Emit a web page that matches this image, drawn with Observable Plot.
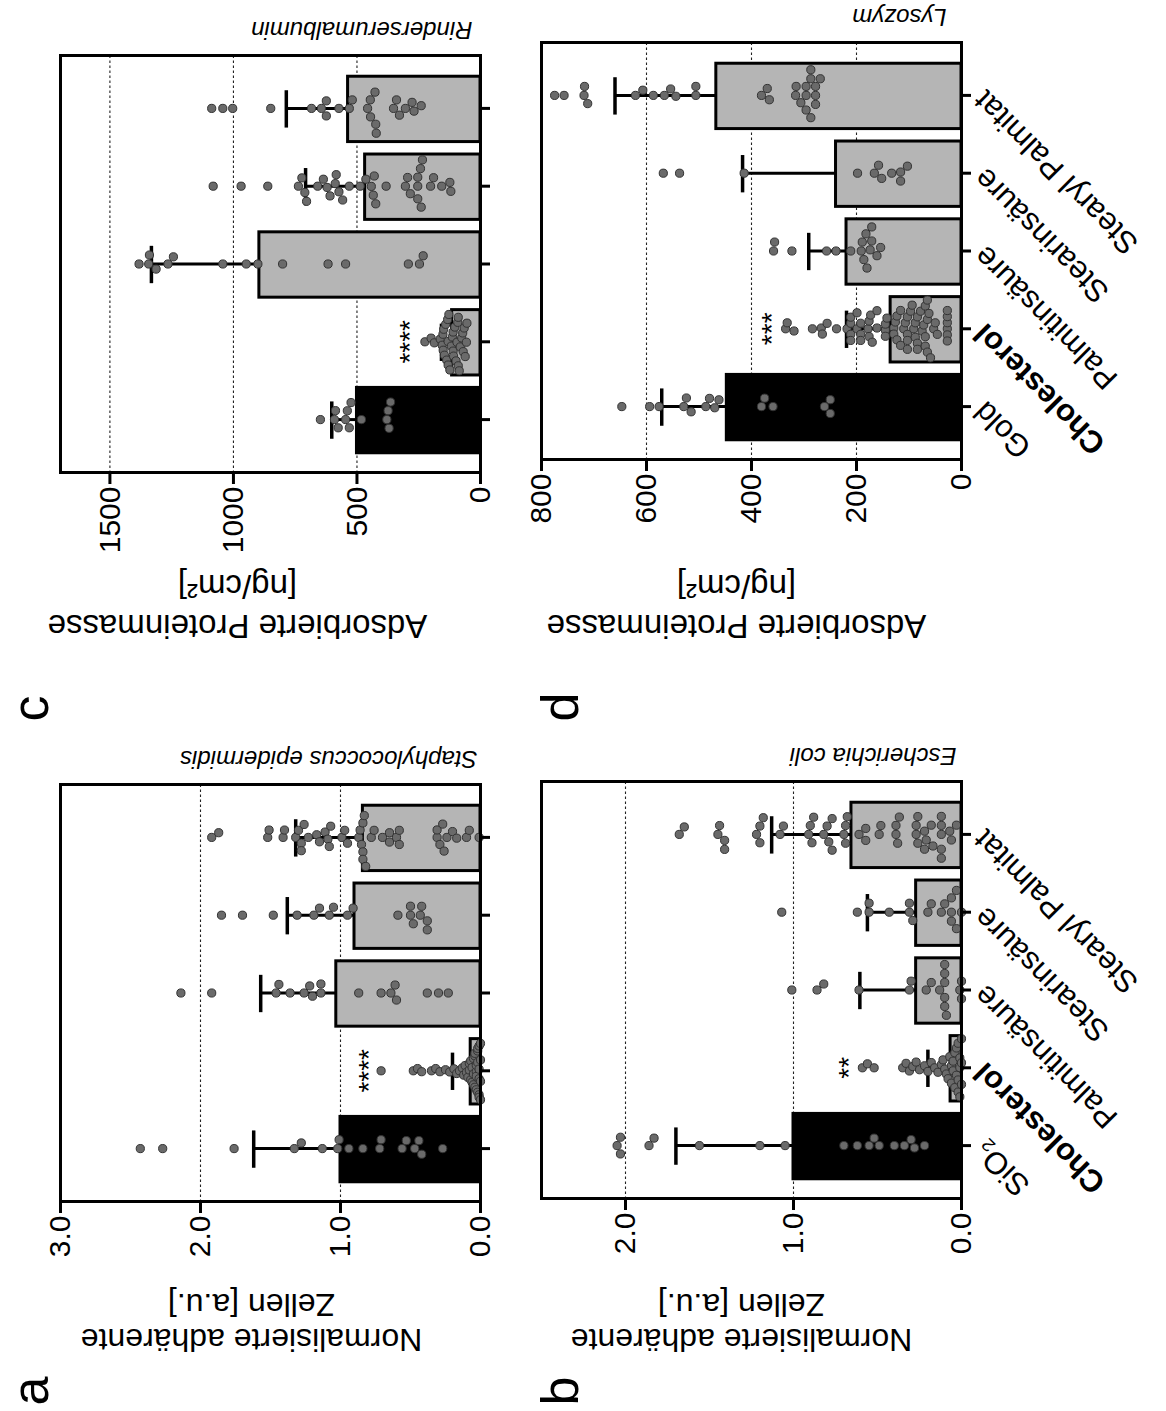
<!DOCTYPE html>
<html><head><meta charset="utf-8">
<script src="https://cdn.jsdelivr.net/npm/d3@7"></script>
<script src="https://cdn.jsdelivr.net/npm/@observablehq/plot@0.6"></script>
<style>
html,body{margin:0;padding:0;background:#fff;}
body{width:1166px;height:1411px;overflow:hidden;position:relative;}
#fig{position:absolute;left:0;top:0;width:1411px;height:1166px;transform-origin:0 0;transform:translateY(1411px) rotate(-90deg);}
#fig svg{position:absolute;overflow:visible;background:transparent;max-width:none;}
</style></head><body><div id="fig"></div>
<script>
// ---------------- data ----------------
const catsAB = ["SiO₂", "Cholesterol", "Palmitinsäure", "Stearinsäure", "Stearyl Palmitat"];
const catsCD = ["Gold", "Cholesterol", "Palmitinsäure", "Stearinsäure", "Stearyl Palmitat"];

// a: Staphylococcus epidermidis
const meanA = [1.00, 0.07, 1.03, 0.90, 0.84];
const sdA = [0.62, 0.13, 0.54, 0.48, 0.48];
const dotsA = [
  [2.43, 2.27, 1.76, 1.33, 1.28, 1.13, 1.02, 1.01, 0.94, 0.84, 0.72, 0.71, 0.56, 0.53, 0.47, 0.44, 0.42, 0.27],
  [0.71, 0.48, 0.45, 0.42, 0.35, 0.32, 0.29, 0.25, 0.22, 0.19, 0.17, 0.15, 0.13, 0.12, 0.11, 0.10, 0.09, 0.08, 0.08, 0.07, 0.07, 0.06, 0.06, 0.05, 0.05, 0.05, 0.04, 0.04, 0.04, 0.03, 0.03, 0.03, 0.03, 0.02, 0.02, 0.02, 0.02, 0.01, 0.01, 0.01, 0.01, 0.01, 0.00, 0.00, 0.00, 0.00],
  [2.14, 1.92, 1.46, 1.44, 1.36, 1.26, 1.22, 1.20, 1.14, 1.14, 0.87, 0.71, 0.64, 0.61, 0.60, 0.38, 0.30, 0.23],
  [1.85, 1.70, 1.48, 1.31, 1.19, 1.15, 1.08, 1.05, 0.95, 0.91, 0.59, 0.50, 0.50, 0.48, 0.43, 0.42, 0.38, 0.38],
  [1.92, 1.87, 1.52, 1.51, 1.41, 1.40, 1.32, 1.30, 1.28, 1.28, 1.26, 1.23, 1.17, 1.15, 1.11, 1.09, 1.08, 1.07, 0.99, 0.97, 0.95, 0.87, 0.86, 0.85, 0.84, 0.84, 0.84, 0.83, 0.82, 0.78, 0.76, 0.70, 0.65, 0.65, 0.60, 0.58, 0.58, 0.31, 0.31, 0.29, 0.27, 0.26, 0.24, 0.20, 0.17, 0.10, 0.08, 0.01]
];
const ticksA = [0, 1, 2, 3];
const gridA = [1, 2];
const starA = {v: 0.845, t: "****"};

// b: Escherichia coli
const meanB = [1.00, 0.065, 0.27, 0.27, 0.655];
const sdB = [0.70, 0.135, 0.335, 0.29, 0.475];
const dotsB = [
  [2.05, 2.03, 2.03, 1.86, 1.83, 1.56, 1.20, 1.05, 0.70, 0.62, 0.55, 0.52, 0.49, 0.40, 0.34, 0.30, 0.28, 0.22],
  [0.59, 0.56, 0.52, 0.35, 0.33, 0.31, 0.29, 0.27, 0.25, 0.22, 0.20, 0.18, 0.16, 0.14, 0.12, 0.11, 0.10, 0.09, 0.08, 0.07, 0.06, 0.06, 0.05, 0.05, 0.04, 0.04, 0.03, 0.03, 0.02, 0.02, 0.02, 0.01, 0.01, 0.01, 0.00, 0.00, 0.00],
  [1.01, 0.86, 0.82, 0.61, 0.31, 0.30, 0.21, 0.18, 0.13, 0.10, 0.10, 0.10, 0.10, 0.10, 0.09, 0.01, 0.00, 0.00],
  [1.07, 0.62, 0.55, 0.55, 0.43, 0.31, 0.31, 0.29, 0.20, 0.18, 0.12, 0.10, 0.06, 0.06, 0.06, 0.03, 0.03, 0.00],
  [1.68, 1.65, 1.45, 1.44, 1.41, 1.41, 1.22, 1.20, 1.20, 1.18, 1.08, 1.06, 0.91, 0.90, 0.89, 0.88, 0.82, 0.80, 0.79, 0.77, 0.77, 0.70, 0.69, 0.69, 0.68, 0.61, 0.57, 0.57, 0.49, 0.48, 0.39, 0.39, 0.38, 0.37, 0.27, 0.27, 0.26, 0.26, 0.22, 0.22, 0.21, 0.18, 0.17, 0.12, 0.12, 0.12, 0.12, 0.12, 0.07, 0.06, 0.03]
];
const ticksB = [0, 1, 2];
const gridB = [1, 2];
const starB = {v: 0.71, t: "**"};

// c: Rinderserumalbumin
const meanC = [500, 115, 895, 467, 536];
const sdC = [102, 43, 437, 241, 250];
const dotsC = [
  [648, 591, 587, 576, 546, 539, 531, 524, 482, 379, 374, 370, 364],
  [225, 200, 187, 163, 155, 152, 151, 149, 146, 141, 137, 133, 131, 131, 128, 124, 118, 114, 111, 111, 109, 104, 99, 95, 92, 90, 90, 86, 82, 76, 72, 70, 66, 62, 57, 55],
  [1382, 1343, 1340, 1313, 1265, 1243, 1043, 948, 901, 801, 617, 546, 292, 247, 232],
  [1082, 969, 861, 737, 723, 711, 704, 659, 636, 621, 609, 588, 584, 573, 558, 531, 487, 464, 442, 434, 430, 424, 382, 304, 295, 284, 254, 254, 254, 243, 240, 235, 202, 190, 157, 124, 120],
  [1088, 1043, 1003, 849, 684, 644, 624, 624, 573, 531, 519, 457, 446, 445, 427, 424, 422, 352, 340, 328, 304, 277, 269, 240]
];
const ticksC = [0, 500, 1000, 1500];
const gridC = [500, 1000, 1500];
const starC = {v: 312, t: "****"};

// d: Lysozym
const meanD = [447, 135, 219, 239, 467];
const sdD = [124, 84, 72, 178, 193];
const dotsD = [
  [647, 594, 576, 529, 524, 515, 487, 480, 470, 462, 381, 375, 359, 261, 250, 250],
  [335, 332, 319, 284, 267, 265, 256, 238, 218, 211, 211, 211, 211, 199, 199, 192, 192, 192, 178, 176, 176, 173, 170, 161, 161, 145, 145, 145, 142, 129, 129, 126, 123, 123, 116, 116, 110, 107, 103, 103, 103, 103, 97, 94, 91, 88, 88, 84, 84, 84, 78, 75, 72, 69, 69, 69, 65, 65, 65, 62, 59, 53, 50, 46, 27, 27, 27, 27, 27, 27],
  [358, 356, 323, 257, 239, 211, 191, 189, 186, 182, 180, 174, 171, 171, 161, 154],
  [568, 537, 414, 198, 166, 158, 152, 133, 116, 116, 103],
  [775, 757, 719, 718, 712, 621, 607, 587, 566, 554, 544, 506, 506, 381, 370, 366, 316, 315, 306, 296, 296, 296, 287, 287, 287, 278, 278, 278, 269]
];
const ticksD = [0, 200, 400, 600, 800];
const gridD = [200, 400, 600];
const starD = {v: 375, t: "***"};

// ---------------- layout ----------------
const FONT = "'Liberation Sans', Arial, Helvetica, sans-serif";
const ML = 280, MR = 60, MT = 30, MB = 240, FW = 417, FH = 420;
const XD = [-0.68, 4.68];

function swarm(ys, D) {
  const idx = d3.range(ys.length).sort((a, b) => ys[a] - ys[b] || a - b);
  const placed = [];
  const out = new Array(ys.length).fill(0);
  for (const i of idx) {
    const y = ys[i];
    const near = placed.filter(p => Math.abs(p.y - y) < D);
    const cands = [0];
    for (const p of near) {
      const h = Math.sqrt(D * D - (p.y - y) ** 2);
      cands.push(p.x + h, p.x - h);
    }
    cands.sort((a, b) => Math.abs(a) - Math.abs(b) || b - a);
    let x = 0;
    for (const c of cands) {
      if (near.every(p => (p.x - c) ** 2 + (p.y - y) ** 2 >= D * D - 0.01)) { x = c; break; }
    }
    placed.push({x, y});
    out[i] = x;
  }
  return out;
}

function makePanel(p, L) {
  const W = ML + FW + MR, H = MT + FH + MB;
  const xs = d3.scaleLinear().domain(XD).range([ML, ML + FW]);
  const ys = d3.scaleLinear().domain([0, p.ymax]).range([MT + FH, MT]);
  const bars = p.means.map((m, i) => ({i, mean: m, top: m + p.sds[i]}));
  const dots = [];
  p.dots.forEach((vals, i) => {
    let off = swarm(vals.map(v => ys(v)), 9);
    const m = d3.max(off, o => Math.abs(o)) || 0;
    if (m > 29) off = off.map(o => o * 29 / m);
    const cx = xs(i);
    vals.forEach((v, k) => dots.push({x: xs.invert(cx + off[k]), v}));
  });
  const fmt = d3.format(p.fmt);
  const svg = Plot.plot({
    width: W, height: H,
    marginLeft: ML, marginRight: MR, marginTop: MT, marginBottom: MB,
    x: {type: "linear", domain: XD},
    y: {type: "linear", domain: [0, p.ymax]},
    style: {fontFamily: FONT, color: "#000", background: "transparent", overflow: "visible"},
    marks: [
      Plot.ruleY(p.grid, {stroke: "#222", strokeWidth: 1.1, strokeDasharray: "2.5,2.5"}),
      Plot.rect(bars.filter(d => d.i === 0), {x1: d => d.i - 0.42, x2: d => d.i + 0.42, y1: () => 0, y2: "mean", fill: "#000", stroke: "#000", strokeWidth: 3}),
      Plot.rect(bars.filter(d => d.i > 0), {x1: d => d.i - 0.42, x2: d => d.i + 0.42, y1: () => 0, y2: "mean", fill: "#b5b5b5", stroke: "#000", strokeWidth: 3}),
      Plot.ruleX(bars, {x: "i", y1: "mean", y2: "top", stroke: "#000", strokeWidth: 3}),
      Plot.ruleY(bars, {y: "top", x1: d => d.i - 0.24, x2: d => d.i + 0.24, stroke: "#000", strokeWidth: 3.5}),
      Plot.dot(dots, {x: "x", y: "v", r: 4.1, fill: "#6a6a6a", stroke: "#333", strokeWidth: 1}),
      Plot.text([p.star], {x: () => 1, y: "v", text: "t", fontSize: 28, dy: 7, fill: "#000"}),
      Plot.frame({stroke: "#000", strokeWidth: 3}),
      Plot.axisY({ticks: p.ticks, tickFormat: fmt, tickSize: 11, tickPadding: 3, fontSize: 30, strokeWidth: 3, label: null}),
      Plot.axisX({ticks: [0, 1, 2, 3, 4], tickFormat: p.showLabels ? (i => p.cats[i]) : (() => ""),
        tickRotate: p.showLabels ? -45 : 0, tickSize: 10, tickPadding: 8, fontSize: 31, strokeWidth: 3, label: null}),
      Plot.text([p.yTitle[0]], {text: d => d, frameAnchor: "left", rotate: -90, textAnchor: "middle", lineAnchor: "middle", dx: L.t1dx, dy: L.tdy, fontSize: L.tfs}),
      Plot.text([p.yTitle[1]], {text: d => d, frameAnchor: "left", rotate: -90, textAnchor: "middle", lineAnchor: "middle", dx: L.t2dx, dy: L.tdy, fontSize: L.tfs}),
      Plot.text([p.title], {text: d => d, frameAnchor: "bottom-right", rotate: -90, textAnchor: "start", lineAnchor: "top", dx: 16, dy: L.titleDy, fontSize: 24, fontStyle: "italic"}),
      Plot.text([p.label], {text: d => d, frameAnchor: "top-left", textAnchor: "start", lineAnchor: "middle", dx: L.labDx, dy: L.labDy, fontSize: 52})
    ]
  });
  svg.style.position = "absolute";
  svg.style.left = (L.left - ML) + "px";
  svg.style.top = (L.top - MT) + "px";
  svg.style.background = "transparent";
  svg.style.overflow = "visible";
  svg.style.maxWidth = "none";
  svg.querySelectorAll("text").forEach(t => {
    if (t.textContent === "Cholesterol") t.setAttribute("font-weight", "bold");
  });
  document.getElementById("fig").appendChild(svg);
}

const yTitleAB = ["Normalisierte adhärente", "Zellen [a.u.]"];
const yTitleCD = ["Adsorbierte Proteinmasse", "[ng/cm²]"];

makePanel({cats: catsAB, means: meanA, sds: sdA, dots: dotsA, ymax: 3, ticks: ticksA, grid: gridA, fmt: ".1f", star: starA,
  title: "Staphylococcus epidermidis", yTitle: yTitleAB, showLabels: false, label: "a"},
  {left: 209, top: 60, t1dx: -137.5, t2dx: -103, tdy: -19, tfs: 32, titleDy: -3, labDx: -204, labDy: -29});

makePanel({cats: catsAB, means: meanB, sds: sdB, dots: dotsB, ymax: 2.5, ticks: ticksB, grid: gridB, fmt: ".1f", star: starB,
  title: "Escherichia coli", yTitle: yTitleAB, showLabels: true, label: "b"},
  {left: 212, top: 541, t1dx: -140.5, t2dx: -106, tdy: -10, tfs: 32, titleDy: -5, labDx: -207, labDy: 20});

makePanel({cats: catsCD, means: meanC, sds: sdC, dots: dotsC, ymax: 1700, ticks: ticksC, grid: gridC, fmt: "d", star: starC,
  title: "Rinderserumalbumin", yTitle: yTitleCD, showLabels: false, label: "c"},
  {left: 938, top: 60, t1dx: -153, t2dx: -113, tdy: -33, tfs: 33, titleDy: -8, labDx: -249, labDy: -29});

makePanel({cats: catsCD, means: meanD, sds: sdD, dots: dotsD, ymax: 800, ticks: ticksD, grid: gridD, fmt: "d", star: starD,
  title: "Lysozym", yTitle: yTitleCD, showLabels: true, label: "d"},
  {left: 951, top: 541, t1dx: -166, t2dx: -126, tdy: -15, tfs: 33, titleDy: -15, labDx: -262, labDy: 20});
</script></body></html>
